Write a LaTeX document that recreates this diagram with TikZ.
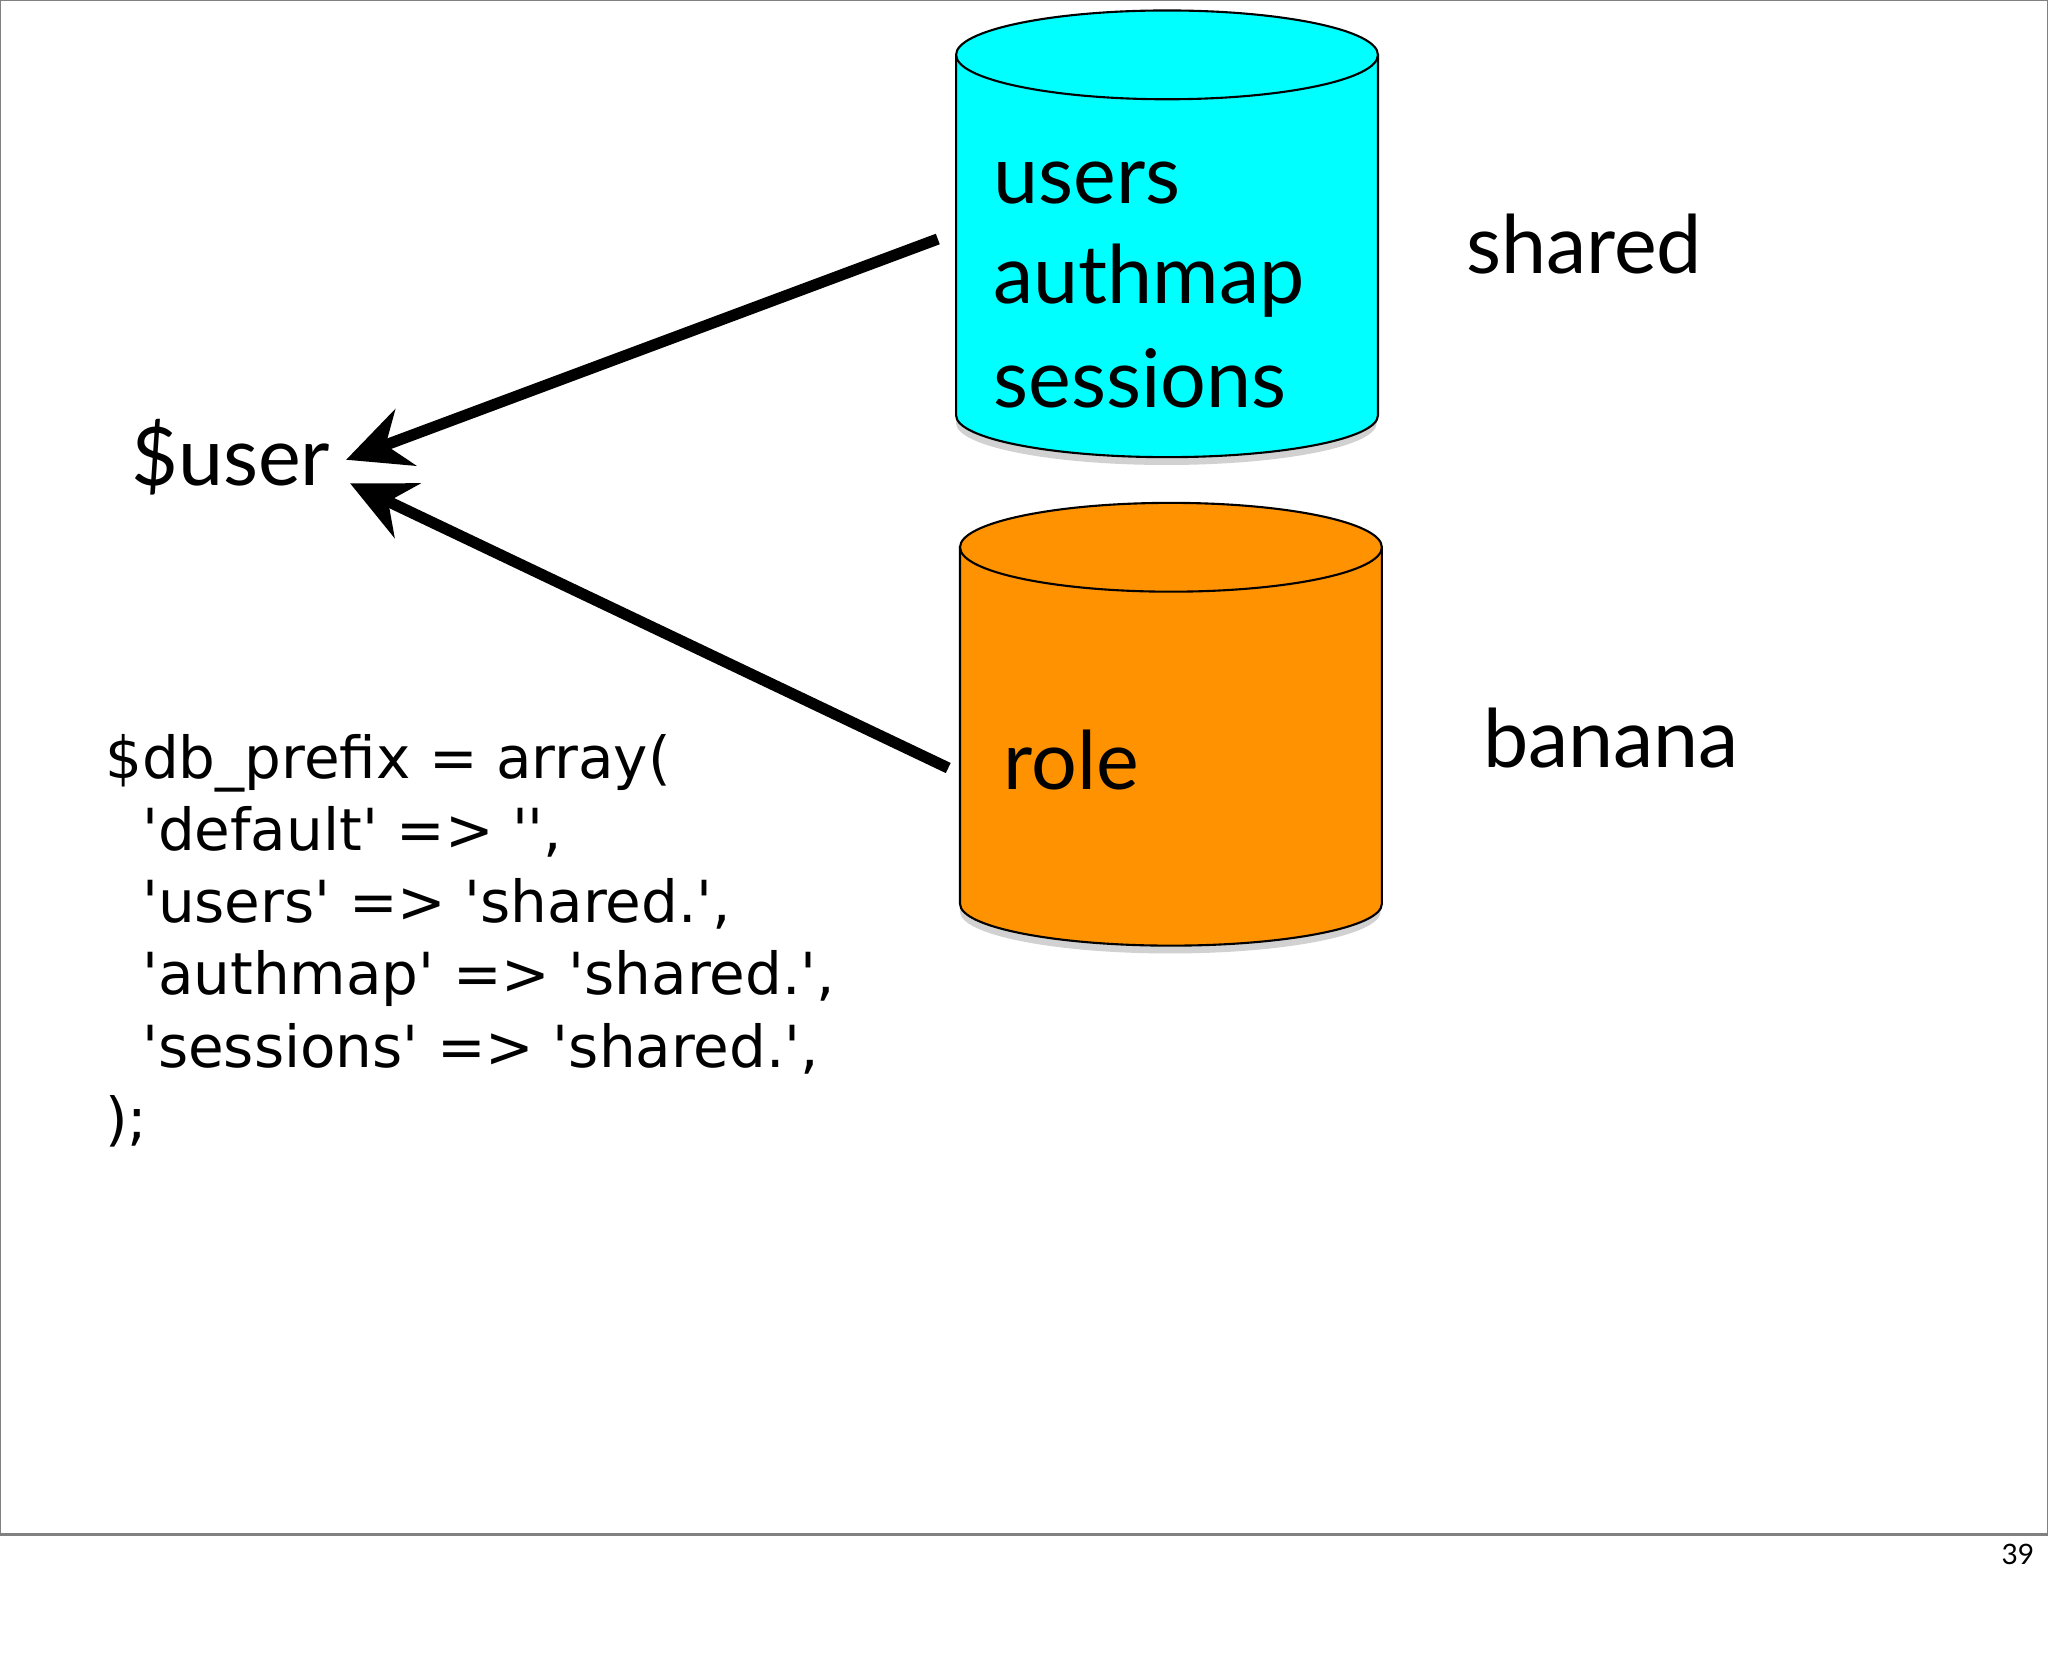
\documentclass[tikz,border=0pt]{standalone}
\usepackage{fontspec}
\setmainfont{Lato}
\newfontfamily\codefont{DejaVu Sans}
\usetikzlibrary{arrows.meta}
\definecolor{dbcyan}{RGB}{0,255,255}
\definecolor{dborange}{RGB}{255,146,0}
\begin{document}
\begin{tikzpicture}[x=0.01306cm,y=-0.01306cm,
  big/.style={font=\fontsize{23}{28}\selectfont,inner sep=0,anchor=west},
  code/.style={font=\codefont\fontsize{16.5}{20.5}\selectfont,inner sep=0,anchor=north west,align=left},
  arr/.style={line width=3.2pt,-{Stealth[length=18pt,width=17pt,inset=6pt]}},
  cyl/.style={draw=black,line width=0.6pt}]
\useasboundingbox (0,0) rectangle (1568,1286);
\draw[gray,line width=0.8pt] (0,0) rectangle (1568,1175);
\node[font=\fontsize{8}{9}\selectfont,inner sep=0] (pg) at (1545,1190) {39};
% cyan cylinder
\fill[black!30,opacity=0.6] (893,324) ellipse[x radius=161,y radius=32];
\fill[dbcyan,cyl] (732,42) -- (732,318) arc[start angle=180,end angle=0,x radius=161.5,y radius=32] -- (1055,42) -- cycle;
\draw[cyl,fill=dbcyan] (893.5,42) ellipse[x radius=161.5,y radius=34];
% orange cylinder
\fill[black!30,opacity=0.6] (896,698) ellipse[x radius=161,y radius=32];
\fill[dborange,cyl] (735,419) -- (735,692) arc[start angle=180,end angle=0,x radius=161.5,y radius=32] -- (1058,419) -- cycle;
\draw[cyl,fill=dborange] (896.5,419) ellipse[x radius=161.5,y radius=34];
% texts
\node[big] (users) at (760,140) {users};
\node[big] (authmap) at (760,215) {authmap};
\node[big] (sessions) at (760,290) {sessions};
\node[big] (role) at (768,582) {role};
\node[big] (shared) at (1122,187) {shared};
\node[big] (banana) at (1135,565) {banana};
\node[big] (user) at (100,350) {\$user};
\node[code] (codeblk) at (80,562) {\$db\_prefix = array(\\
\ \ 'default' => '',\\
\ \ 'users' => 'shared.',\\
\ \ 'authmap' => 'shared.',\\
\ \ 'sessions' => 'shared.',\\
);};
\coordinate (a1) at (718,183);
\coordinate (a2) at (726,588);
\coordinate (t1) at (265,352);
\coordinate (t2) at (268,370);
\draw[arr] (a1) -- (t1);
\draw[arr] (a2) -- (t2);
\end{tikzpicture}
\end{document}
